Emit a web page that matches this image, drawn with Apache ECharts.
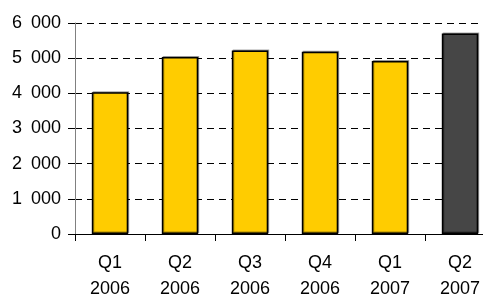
<!DOCTYPE html>
<html>
<head>
<meta charset="utf-8">
<script src="https://cdn.jsdelivr.net/npm/echarts@6/dist/echarts.min.js"></script>
<style>
  html, body { margin: 0; padding: 0; background: #fff; }
  #chart { width: 483px; height: 294px; }
</style>
</head>
<body>
<div id="chart"></div>
<script>
// quarters and values
const quarters = ['Q1\n2006', 'Q2\n2006', 'Q3\n2006', 'Q4\n2006', 'Q1\n2007', 'Q2\n2007']
const values = [4030, 5030, 5220, 5180, 4920, 5700]
const yTicks = [0, 1000, 2000, 3000, 4000, 5000, 6000]

const chart = echarts.init(document.getElementById('chart'))
chart.setOption({
  backgroundColor: '#fff',
  animation: false,
  grid: {
    left: 75,
    right: -12,
    top: 23,
    bottom: 60,
    containLabel: false,
    outerBoundsMode: 'none'
  },
  xAxis: {
    type: 'category',
    data: quarters,
    axisLine: { lineStyle: { color: '#000', width: 1 } },
    axisTick: { show: true, length: 7, lineStyle: { color: '#000' } },
    axisLabel: {
      color: '#000',
      fontFamily: 'Liberation Sans',
      fontSize: 18,
      lineHeight: 26,
      margin: 16
    }
  },
  yAxis: {
    type: 'value',
    min: yTicks[0],
    max: yTicks[yTicks.length - 1],
    interval: 1000,
    axisLine: { show: true, lineStyle: { color: '#808080' } },
    axisTick: { show: true, length: 7, lineStyle: { color: '#000' } },
    axisLabel: {
      color: '#000',
      fontFamily: 'Liberation Sans',
      fontSize: 18,
      margin: 14,
      // thousands separated by a wide space, as in the picture
      formatter: v => v >= 1000 ? Math.floor(v / 1000) + '\u2002' + String(v % 1000).padStart(3, '0') : String(v)
    },
    splitLine: {
      show: true,
      lineStyle: { color: '#000', type: [7, 5], width: 1 }
    }
  },
  series: [
    {
      type: 'bar',
      data: values.map((v, i) => ({
        value: v,
        itemStyle: { color: i === values.length - 1 ? '#464646' : '#FFCC00' }
      })),
      barWidth: '52%',
      itemStyle: {
        borderColor: '#000',
        borderWidth: 1.5,
        shadowColor: 'rgba(0,0,0,0.35)',
        shadowOffsetX: 1,
        shadowOffsetY: -1,
        shadowBlur: 0
      }
    }
  ]
})
</script>
</body>
</html>
